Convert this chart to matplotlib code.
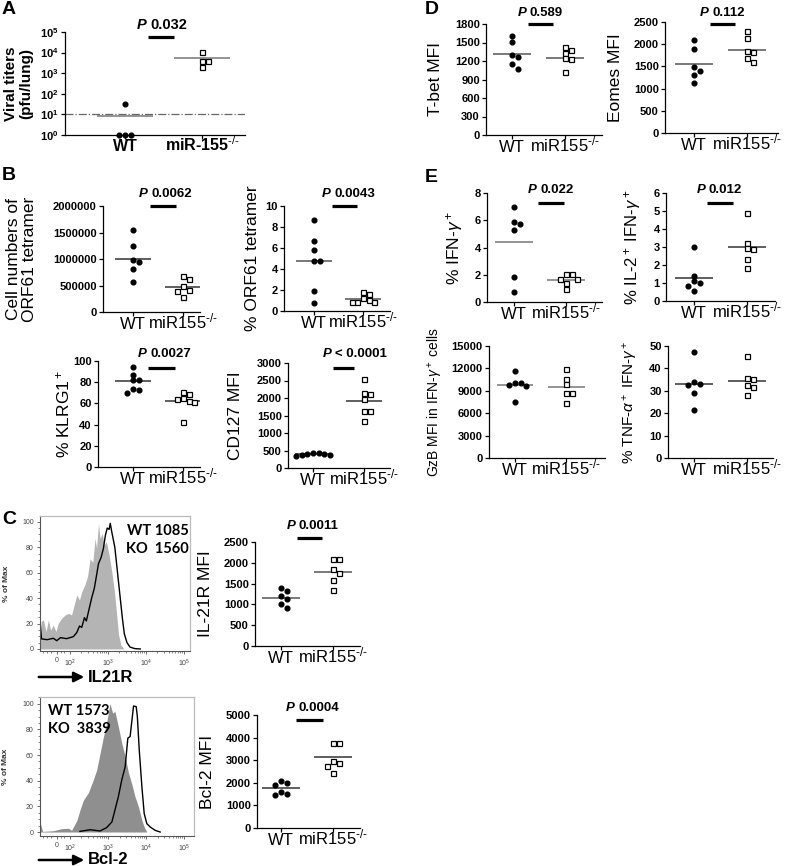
import matplotlib
matplotlib.use('Agg')
import matplotlib.pyplot as plt
from matplotlib.ticker import MultipleLocator
import numpy as np

plt.rcParams['font.family'] = ['Liberation Sans', 'DejaVu Sans']
plt.rcParams['mathtext.fontset'] = 'custom'
plt.rcParams['mathtext.rm'] = 'Liberation Sans'
plt.rcParams['mathtext.it'] = 'Liberation Sans:italic'
plt.rcParams['mathtext.bf'] = 'Liberation Sans:bold'
plt.rcParams['axes.linewidth'] = 0.9

W, H = 792, 866

groups = ['WT', r'miR155$^{\text{-/-}}$']
groups_a = ['WT', r'miR-155$^{\text{-/-}}$']

# ---- A: viral titers (pfu/lung)
titer_wt = [31, 1, 1, 1]
titer_ko = [10500, 4000, 4000, 1900]
titer_mean = [8.5, 5200]
titer_limit = 10

# ---- B
orf61_num_wt = [1540000, 1240000, 980000, 950000, 820000, 560000]
orf61_num_ko = [670000, 620000, 490000, 420000, 400000, 290000]
orf61_num_mean = [1005000, 480000]

orf61_pct_wt = [8.7, 6.7, 5.8, 4.8, 4.8, 1.9, 0.8]
orf61_pct_ko = [1.78, 1.6, 1.27, 1.02, 0.83, 0.83, 0.83]
orf61_pct_mean = [4.75, 1.15]

klrg1_wt = [94.6, 87, 82, 82, 74, 72.6, 69.4]
klrg1_ko = [71, 68.8, 64.7, 64, 62.2, 60.9, 42.6]
klrg1_mean = [81, 62.5]

cd127_wt = [440, 430, 410, 400, 380, 360, 340]
cd127_ko = [2530, 2150, 2110, 1960, 1625, 1625, 1340]
cd127_mean = [412, 1920]

# ---- C
il21r_wt = [1390, 1320, 1190, 1130, 1020, 920]
il21r_ko = [2100, 2080, 1850, 1760, 1590, 1340]
il21r_mean = [1160, 1770]

bcl2_wt = [2080, 2010, 1910, 1610, 1510, 1470]
bcl2_ko = [3760, 3760, 2950, 2880, 2730, 2440]
bcl2_mean = [1775, 3130]

# histograms: x in decades (display scale), y in % of max
il21r_hx_wt = [1.22, 1.24, 1.30, 1.37, 1.43, 1.49, 1.56, 1.63, 1.69, 1.78, 1.87, 1.96, 2.04, 2.11,
               2.18, 2.25, 2.31, 2.39, 2.46, 2.53, 2.60, 2.66, 2.70, 2.75, 2.79, 2.85, 2.90, 2.96,
               3.03, 3.10, 3.17, 3.23, 3.28, 3.34, 3.42]
il21r_hy_wt = [0, 21.5, 22.8, 13.6, 22.8, 14.9, 18.8, 13.6, 20.2, 24.1, 26.7, 28.0, 26.7, 34.6,
               42.4, 38.5, 45.0, 50.3, 56.8, 70.9, 68.1, 86.9, 79.1, 98.7, 86.9, 90.8, 81.7, 84.3,
               73.8, 60.7, 45.0, 26.7, 11.0, 3.1, 0]
il21r_hx_ko = [1.22, 1.25, 1.40, 1.56, 1.65, 1.75, 1.91, 2.09, 2.18, 2.25, 2.31, 2.38, 2.43, 2.50,
               2.57, 2.64, 2.70, 2.75, 2.82, 2.88, 2.93, 2.98, 3.03, 3.06, 3.10, 3.14, 3.18, 3.23,
               3.28, 3.33, 3.38, 3.43, 3.50, 3.58, 3.70, 3.85]
il21r_hy_ko = [19, 7.9, 7.3, 8.4, 6.5, 8.9, 8.1, 9.7, 13, 18, 17, 24.6, 22, 31,
               40, 47.6, 58, 67, 72, 79, 89, 95, 94, 98.7, 92, 86, 80, 66,
               52, 38, 24, 12, 5, 1.5, 0.3, 0]

bcl2_hx_wt = [1.21, 1.28, 1.56, 1.78, 1.96, 2.04, 2.18, 2.26, 2.35, 2.48, 2.61, 2.70, 2.79, 2.88,
              2.96, 3.05, 3.12, 3.18, 3.27, 3.36, 3.45, 3.54, 3.62, 3.71, 3.80, 3.89, 3.95, 4.02]
bcl2_hy_wt = [7.8, 0.5, 1.0, 2.6, 2.9, 1.3, 9.1, 17.0, 24.8, 30.5, 40.5, 48.3, 61.4, 74.4,
              84.9, 100, 92.7, 94.0, 82.2, 69.2, 58.7, 45.7, 37.9, 27.4, 19.6, 9.1, 3.9, 0]
bcl2_hx_ko = [2.26, 2.53, 2.79, 2.96, 3.10, 3.18, 3.27, 3.36, 3.45, 3.52, 3.58, 3.62, 3.67, 3.74,
              3.77, 3.82, 3.89, 3.95, 4.02, 4.11, 4.24, 4.37]
bcl2_hy_ko = [0.5, 1.8, 0.8, 3.4, 7.8, 17.0, 27.4, 40.5, 50.9, 73.1, 74.4, 85.0, 98.2, 97.7,
              90.0, 64.0, 35.2, 14.4, 6.5, 3.9, 1.3, 0]

hist_ticks = [1.65, 2, 3, 4, 5]
hist_ticklabels = ['0', '10$^2$', '10$^3$', '10$^4$', '10$^5$']

# ---- D
tbet_wt = [1605, 1513, 1297, 1259, 1146, 1070]
tbet_ko = [1430, 1380, 1330, 1243, 1230, 1015]
tbet_mean = [1313, 1254]
eomes_wt = [2090, 1900, 1490, 1400, 1310, 1120]
eomes_ko = [2290, 2130, 1850, 1830, 1690, 1600]
eomes_mean = [1550, 1880]

# ---- E
ifng_wt = [7.0, 5.87, 5.72, 5.3, 1.82, 0.74]
ifng_ko = [2.04, 2.04, 1.69, 1.69, 1.37, 0.93]
ifng_mean = [4.44, 1.62]
il2_wt = [3.02, 1.40, 1.10, 1.02, 0.86, 0.54]
il2_ko = [4.88, 3.24, 2.95, 2.87, 2.31, 1.86]
il2_mean = [1.30, 2.98]
gzb_wt = [11600, 10100, 10100, 9820, 9690, 7530]
gzb_ko = [11900, 10580, 9860, 8730, 8730, 7390]
gzb_mean = [9820, 9550]
tnf_wt = [47.3, 33.9, 33.2, 32.8, 29.0, 21.6]
tnf_ko = [45.4, 35.7, 35.1, 32.5, 31.7, 28.0]
tnf_mean = [33, 34.5]


fig = plt.figure(figsize=(W / 100, H / 100), dpi=100)


def px_rect(x0, x1, ytop, ybot):
    return [x0 / W, 1 - ybot / H, (x1 - x0) / W, (ybot - ytop) / H]


def swarm(ax, xc, vals, d=5.2, gap=5.6):
    # simple beeswarm in display pixels
    t = ax.transData
    step = gap / (t.transform((2, 1))[0] - t.transform((1, 1))[0])
    placed = []
    xs = np.zeros(len(vals))
    for i in np.argsort(vals)[::-1]:
        for k in [0, 1, -1, 2, -2, 3, -3, 4, -4]:
            x = xc + k * step
            p = t.transform((x, vals[i]))
            if all(np.hypot(*(p - q)) >= d for q in placed):
                break
        placed.append(p)
        xs[i] = x
    return xs


def dotplot(rect, wt, ko, means, ylim, yticks, ylabel, lab_x, xlim,
            labsize=12.5, log=False, xlabels=groups, xbold=False, xsize=12, ytl=None,
            meancol='#555555', xpad=9.0):
    ax = fig.add_axes(px_rect(*rect))
    if log:
        ax.set_yscale('log')
    ax.set_xlim(xlim)
    ax.set_ylim(ylim)
    for s in ['top', 'right']:
        ax.spines[s].set_visible(False)
    ax.set_yticks(yticks)
    if ytl is None:
        ytl = [str(t) for t in yticks]
    ax.set_yticklabels(ytl, fontweight='bold', fontsize=8)
    ax.minorticks_off()
    ax.set_xticks([1, 2])
    lbls = ax.set_xticklabels(xlabels, fontsize=xsize, fontweight='bold' if xbold else 'normal',
                              va='baseline')
    # the long label sits a little right of its tick, as in the original
    lbls[1].set_ha('center')
    ax.tick_params(length=3, width=0.9, pad=1.5)
    ax.tick_params(axis='x', pad=xpad)
    ax.set_ylabel(ylabel, fontsize=labsize, linespacing=1.1,
                  fontweight='bold' if xbold else 'normal')
    x0, x1 = rect[0], rect[1]
    ax.yaxis.set_label_coords((lab_x - x0) / (x1 - x0), 0.5)
    xw = swarm(ax, 1, wt)
    xk = swarm(ax, 2, ko)
    ax.plot(xw, wt, 'o', ms=3.4, color='k', clip_on=False, zorder=3)
    ax.plot(xk, ko, 's', ms=3.6, mfc='white', mec='k', mew=0.9, clip_on=False, zorder=3)
    for i, m in enumerate(means):
        ax.hlines(m, i + 1 - 0.36, i + 1 + 0.36, color=meancol, lw=1.1, zorder=2)
    return ax


def pbar(ax, x0, x1, yb, yt, txt, size=9.5):
    tr = ax.get_xaxis_transform()
    ax.plot([x0, x1], [yb, yb], color='k', lw=2.3, transform=tr, clip_on=False,
             solid_capstyle='butt')
    ax.annotate('P', (x0, yt), xycoords=tr, xytext=(-1, 0), textcoords='offset points',
                ha='right', va='center', fontstyle='italic', fontweight='bold', fontsize=size)
    ax.annotate(txt, (x0, yt), xycoords=tr, xytext=(1.5, 0), textcoords='offset points',
                ha='left', va='center', fontweight='bold', fontsize=size)


# ---------------- A
axA = dotplot((65, 245, 32, 135), titer_wt, titer_ko, titer_mean, (1, 1e5),
              [1, 10, 100, 1000, 1e4, 1e5], 'Viral titers\n(pfu/lung)', 33, (0.22, 2.56),
              labsize=11, log=True, xlabels=groups_a, xbold=True, xsize=11.5,
              ytl=[r'$\mathbf{10^{%d}}$' % i for i in range(6)], meancol='#777777', xpad=8.5)
axA.axhline(titer_limit, color='#666666', lw=0.9, ls='-.', zorder=1)
pbar(axA, 1.30, 1.64, 0.95, 1.07, '0.032', size=10.5)

# ---------------- B
axB1 = dotplot((103, 200, 206, 312), orf61_num_wt, orf61_num_ko, orf61_num_mean, (0, 2000000),
               [0, 500000, 1000000, 1500000, 2000000], 'Cell numbers of\nORF61 tetramer', 37,
               (0.4, 2.34), meancol='#333333')
pbar(axB1, 1.33, 1.85, 1.0, 1.11, '0.0062')

axB2 = dotplot((284, 390, 206, 311), orf61_pct_wt, orf61_pct_ko, orf61_pct_mean, (0, 10),
               [0, 2, 4, 6, 8, 10], '% ORF61 tetramer', 260, (0.39, 2.55))
pbar(axB2, 1.37, 1.88, 1.0, 1.11, '0.0043')

axB3 = dotplot((98, 200, 361, 467), klrg1_wt, klrg1_ko, klrg1_mean, (0, 100),
               [0, 20, 40, 60, 80, 100], '% KLRG1$^+$', 72, (0.3, 2.34), meancol='#333333')
pbar(axB3, 1.30, 1.84, 0.93, 1.07, '0.0027')

axB4 = dotplot((288, 390, 363, 468), cd127_wt, cd127_ko, cd127_mean, (0, 3000),
               [0, 500, 1000, 1500, 2000, 2500, 3000], 'CD127 MFI', 243, (0.51, 2.51),
               meancol='#333333')
pbar(axB4, 1.39, 1.80, 0.955, 1.09, '< 0.0001')

# ---------------- C scatter
axC1 = dotplot((255, 360, 542, 646), il21r_wt, il21r_ko, il21r_mean, (0, 2500),
               [0, 500, 1000, 1500, 2000, 2500], 'IL-21R MFI', 213, (0.5, 2.52))
pbar(axC1, 1.30, 1.78, 1.035, 1.15, '0.0011')

axC2 = dotplot((257, 360, 715, 828), bcl2_wt, bcl2_ko, bcl2_mean, (0, 5000),
               [0, 1000, 2000, 3000, 4000, 5000], 'Bcl-2 MFI', 215, (0.54, 2.52),
               meancol='#333333')
pbar(axC2, 1.29, 1.81, 0.956, 1.06, '0.0004')


# ---------------- C histograms
def hist_panel(rect, xw, yw, xk, yk, grey, ylim, xlim, txt, txt_xy, ha):
    ax = fig.add_axes(px_rect(*rect))
    ax.fill_between(xw, yw, 0, color=grey, lw=0)
    ax.plot(xk, yk, color='k', lw=1.0)
    ax.set_xlim(xlim)
    ax.set_ylim(ylim)
    for s in ['top', 'right']:
        ax.spines[s].set_color('#bbbbbb')
    for s in ['left', 'bottom']:
        ax.spines[s].set_color('#555555')
        ax.spines[s].set_linewidth(0.8)
    ax.set_xticks(hist_ticks)
    ax.set_xticklabels(hist_ticklabels, fontsize=5, color='#444444')
    minors = [np.log10(k) + n for n in (2, 3, 4) for k in range(2, 10)]
    minors += [1.3, 1.4, 1.5, 1.75, 1.85]
    ax.set_xticks([m for m in minors if m < xlim[1]], minor=True)
    ax.set_yticks([0, 20, 40, 60, 80, 100])
    ax.set_yticklabels(['0', '20', '40', '60', '80', '100'], fontsize=5, color='#444444')
    ax.yaxis.set_minor_locator(MultipleLocator(5))
    ax.tick_params(which='major', length=2.5, width=0.6, pad=2, color='#555555')
    ax.tick_params(which='minor', length=1.5, width=0.5, color='#555555')
    ax.set_ylabel('% of Max', fontsize=6, fontweight='bold', color='#333333')
    ax.yaxis.set_label_coords(-0.2, 0.5)
    ax.text(txt_xy[0], txt_xy[1], txt, transform=ax.transAxes, ha=ha, va='top',
            fontsize=10.5, fontweight='bold', family=['Lato', 'Liberation Sans'],
            linespacing=1.35)
    return ax


hist_panel((40, 190, 516, 651), il21r_hx_wt, il21r_hy_wt, il21r_hx_ko, il21r_hy_ko,
           '#b4b4b4', (-1.6, 104.5), (1.21, 5.16), 'WT 1085\nKO  1560', (0.99, 0.94), 'right')
hist_panel((40, 194, 697, 836), bcl2_hx_wt, bcl2_hy_wt, bcl2_hx_ko, bcl2_hy_ko,
           '#8f8f8f', (-3.1, 105.2), (1.21, 5.26), 'WT 1573\nKO  3839', (0.05, 0.95), 'left')

for yy, lab in [(677, 'IL21R'), (860, 'Bcl-2')]:
    fig.add_artist(matplotlib.patches.FancyArrowPatch(
        (36 / W, 1 - yy / H), (87 / W, 1 - yy / H), transform=fig.transFigure,
        arrowstyle='-|>', mutation_scale=15, lw=1.8, color='k'))
    fig.text(88 / W, 1 - yy / H, lab, fontsize=12, fontweight='bold', va='center', ha='left')

# ---------------- D
axD1 = dotplot((486, 602, 24, 135), tbet_wt, tbet_ko, tbet_mean, (0, 1800),
               [0, 300, 600, 900, 1200, 1500, 1800], 'T-bet MFI', 443, (0.51, 2.7))
pbar(axD1, 1.30, 1.77, 1.0, 1.10, '0.589')

axD2 = dotplot((665, 778, 22, 133), eomes_wt, eomes_ko, eomes_mean, (0, 2500),
               [0, 500, 1000, 1500, 2000, 2500], 'Eomes MFI', 623, (0.45, 2.58))
pbar(axD2, 1.30, 1.77, 0.98, 1.08, '0.112')

# ---------------- E
axE1 = dotplot((487, 602, 193, 302), ifng_wt, ifng_ko, ifng_mean, (0, 8),
               [0, 2, 4, 6, 8], '% IFN-$\\gamma^+$', 465, (0.48, 2.69), meancol='#777777')
pbar(axE1, 1.46, 1.96, 0.91, 1.03, '0.022')

axE2 = dotplot((666, 775, 193, 301), il2_wt, il2_ko, il2_mean, (0, 6),
               [0, 1, 2, 3, 4, 5, 6], '% IL-2$^+$ IFN-$\\gamma^+$', 643, (0.47, 2.53),
               labsize=12, meancol='#333333')
pbar(axE2, 1.24, 1.74, 0.91, 1.03, '0.012')

axE3 = dotplot((489, 605, 346, 458), gzb_wt, gzb_ko, gzb_mean, (0, 15000),
               [0, 3000, 6000, 9000, 12000, 15000], 'GzB MFI in IFN-$\\gamma^+$ cells', 445,
               (0.49, 2.76), labsize=10, meancol='#777777')

axE4 = dotplot((668, 773, 346, 458), tnf_wt, tnf_ko, tnf_mean, (0, 50),
               [0, 10, 20, 30, 40, 50], '% TNF-$\\alpha^+$ IFN-$\\gamma^+$', 640, (0.51, 2.49),
               labsize=11, meancol='#333333')

# panel letters
for x, y, s in [(2, 9, 'A'), (2, 176, 'B'), (2, 519, 'C'), (425, 9, 'D'), (425, 177, 'E')]:
    fig.text(x / W, 1 - y / H, s, fontsize=14, fontweight='bold', va='center', ha='left')

fig.savefig('out.png', dpi=100)
